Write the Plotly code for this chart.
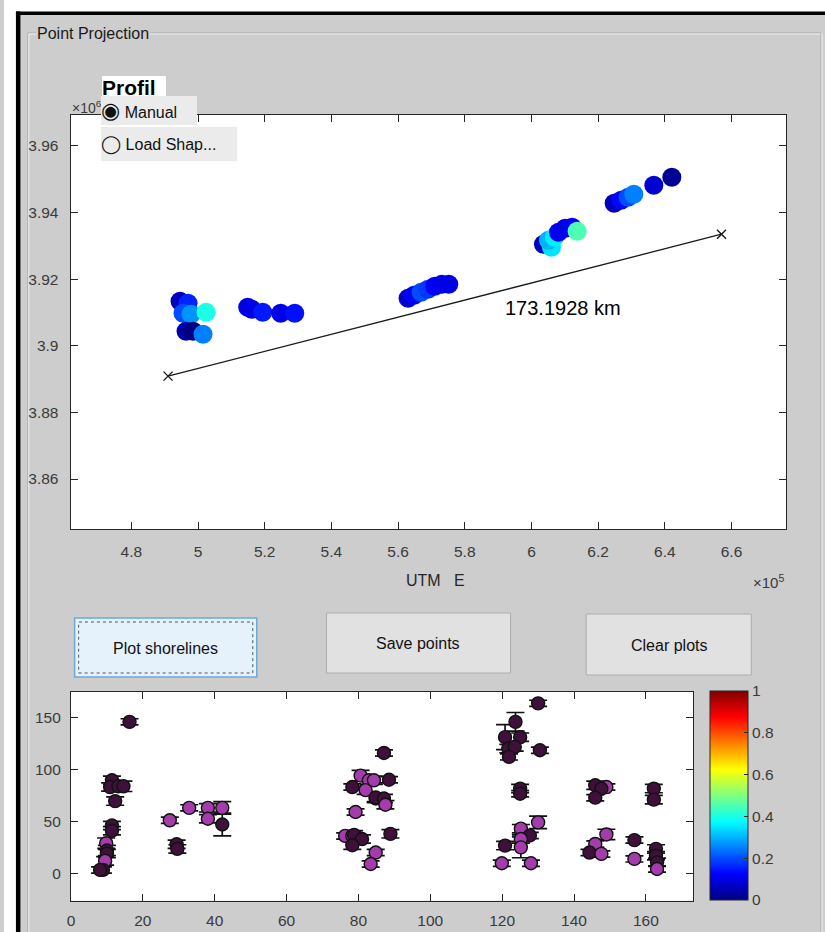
import plotly.graph_objects as go

W, H = 825, 932

# ---------------- data ----------------
# profile line (UTM metres)
line_e = [491000, 657000]
line_n = [3890900, 3933500]
profile_label = "173.1928 km"

# shoreline points in the map (UTM E, UTM N, colour value 0..1)
pts_e = [494600, 497000, 495500, 497900, 502400, 496400, 498500, 501500,
         514900, 516100, 519400, 524800, 529000,
         563000, 564800, 566900, 569000, 571000, 573100, 575200,
         603600, 606000, 605100, 606900, 608100, 610100, 612200, 613700,
         624800, 626900, 629000, 630700, 636700, 642100]
pts_n = [3913400, 3912800, 3909800, 3909500, 3910100, 3904400, 3904400, 3903500,
         3911600, 3911000, 3910100, 3909800, 3909800,
         3914300, 3915200, 3916100, 3917000, 3917900, 3918500, 3918500,
         3930500, 3929600, 3931700, 3932600, 3934100, 3935300, 3935600, 3934400,
         3942800, 3943700, 3944600, 3945500, 3948200, 3950600]
pts_c = [0.06, 0.16, 0.20, 0.27, 0.40, 0.04, 0.00, 0.25,
         0.10, 0.10, 0.15, 0.10, 0.14,
         0.08, 0.12, 0.20, 0.18, 0.12, 0.10, 0.10,
         0.06, 0.35, 0.30, 0.36, 0.12, 0.10, 0.12, 0.45,
         0.06, 0.13, 0.20, 0.25, 0.08, 0.02]

top_xtick_vals = [480000, 500000, 520000, 540000, 560000, 580000, 600000, 620000, 640000, 660000]
top_xtick_text = ["4.8", "5", "5.2", "5.4", "5.6", "5.8", "6", "6.2", "6.4", "6.6"]
top_ytick_vals = [3860000, 3880000, 3900000, 3920000, 3940000, 3960000]
top_ytick_text = ["3.86", "3.88", "3.9", "3.92", "3.94", "3.96"]

# bottom plot: distance along profile, shoreline value, error, group
sh_x = [16.3, 11.4, 10.9, 13.2, 14.6, 12.3, 11.4, 11.4, 9.8, 10.0, 10.0, 9.5, 8.9, 8.1,
        27.5, 29.4, 29.6, 32.9, 38.1, 38.1, 42.1, 42.1,
        76.3, 78.3, 78.8, 81.0, 78.3, 80.6, 78.3, 82.9, 82.0, 84.8, 79.2, 84.8, 83.4,
        87.1, 88.5, 84.3, 84.8, 87.1, 87.5, 88.9,
        130.0, 123.7, 120.8, 125.0, 121.7, 123.5, 121.9, 130.5, 125.0, 125.0, 130.0,
        125.2, 127.7, 125.2, 120.8, 125.2, 119.9, 128.0,
        145.9, 149.0, 147.6, 145.9, 149.0, 145.9, 144.3, 147.6, 156.8, 156.8,
        162.2, 162.2, 162.8, 162.8, 163.1, 163.1]
sh_y = [145.7, 89.5, 83.0, 83.7, 83.7, 69.5, 46.0, 41.0, 29.0, 22.0, 19.0, 12.0, 3.3, 3.3,
        51.0, 28.0, 23.5, 63.0, 63.0, 52.5, 63.0, 47.0,
        36.0, 36.0, 37.0, 33.0, 27.0, 94.0, 83.0, 89.5, 80.0, 72.0, 59.0, 20.0, 9.0,
        115.8, 90.0, 89.5, 73.0, 72.0, 66.0, 38.0,
        163.5, 145.7, 131.0, 131.0, 120.0, 121.6, 112.0, 118.4, 81.5, 76.6, 49.0,
        43.0, 36.4, 33.0, 26.7, 25.0, 9.7, 9.7,
        84.7, 83.0, 81.5, 72.8, 37.4, 28.3, 20.0, 18.7, 32.0, 13.9,
        81.5, 70.9, 23.5, 17.0, 10.6, 4.2]
sh_err = [3, 4, 4, 4, 5, 4, 4, 4, 5, 5, 4, 4, 3, 3,
          3, 4, 4, 3, 4, 4, 6, 11,
          3, 4, 4, 4, 4, 5, 3, 4, 4, 4, 3, 3, 3,
          3, 3, 4, 4, 4, 4, 4,
          3, 9, 12, 4, 4, 4, 3, 3, 4, 3, 6,
          4, 3, 4, 4, 10, 3, 3,
          4, 3, 4, 3, 5, 3, 3, 3, 3, 3,
          4, 4, 4, 4, 4, 3]
sh_grp = ["d", "d", "d", "d", "d", "d", "d", "d", "p", "d", "d", "p", "d", "d",
          "p", "d", "d", "p", "p", "p", "p", "d",
          "p", "p", "d", "d", "d", "p", "d", "p", "p", "d", "p", "p", "p",
          "d", "d", "p", "d", "d", "p", "d",
          "d", "d", "d", "d", "d", "d", "d", "d", "d", "d", "p",
          "p", "d", "p", "d", "p", "p", "p",
          "d", "p", "d", "d", "p", "p", "d", "p", "d", "p",
          "d", "d", "d", "d", "d", "p"]
bot_xtick_vals = [0, 20, 40, 60, 80, 100, 120, 140, 160]
bot_ytick_vals = [0, 50, 100, 150]
cbar_vals = [0, 0.2, 0.4, 0.6, 0.8, 1]
cbar_text = ["0", "0.2", "0.4", "0.6", "0.8", "1"]

# ---------------- styles ----------------
FONT = "Liberation Sans, Arial, Helvetica, sans-serif"
PANEL = "#CDCDCD"
AXC = "#262626"
TICKC = "#3A3A3A"
GRP_COL = {"p": "#A43CAC", "d": "#3E103A"}
JET = [[0, "rgb(0,0,128)"], [0.125, "rgb(0,0,255)"], [0.375, "rgb(0,255,255)"],
       [0.625, "rgb(255,255,0)"], [0.875, "rgb(255,0,0)"], [1, "rgb(128,0,0)"]]


def px(x):
    return x / W


def py(y):
    return 1 - y / H


fig = go.Figure()

# profile line
fig.add_trace(go.Scatter(
    x=line_e, y=line_n, mode="lines+markers", xaxis="x", yaxis="y",
    line=dict(color="#1a1a1a", width=1.3),
    marker=dict(symbol="x-thin", size=9, color="#1a1a1a", line=dict(color="#1a1a1a", width=1.4)),
    hoverinfo="skip"))

# map points, colour-coded with jet colormap, with colorbar placed at bottom right
fig.add_trace(go.Scatter(
    x=pts_e, y=pts_n, mode="markers", xaxis="x", yaxis="y",
    marker=dict(size=19, color=pts_c, colorscale=JET, cmin=0, cmax=1,
                line=dict(width=0), showscale=True,
                colorbar=dict(x=px(709), xanchor="left", y=py(691), yanchor="top",
                              len=209 / H, lenmode="fraction", thickness=38,
                              thicknessmode="pixels", xpad=0, ypad=0,
                              outlinecolor=AXC, outlinewidth=1,
                              tickvals=cbar_vals, ticktext=cbar_text,
                              ticks="inside", ticklen=4, tickcolor=AXC,
                              tickfont=dict(family=FONT, size=15.5, color=TICKC))),
    hoverinfo="skip"))

# bottom scatter with error bars
fig.add_trace(go.Scatter(
    x=sh_x, y=sh_y, mode="markers", xaxis="x2", yaxis="y2",
    error_y=dict(type="data", array=sh_err, color="#111111", thickness=1.7, width=9),
    marker=dict(size=13, color=[GRP_COL[g] for g in sh_grp],
                line=dict(color="#111111", width=1.4)),
    hoverinfo="skip"))

axis_common = dict(ticks="inside", ticklen=7, tickcolor=AXC, tickwidth=1,
                   showline=True, linecolor=AXC, linewidth=1.2, mirror="ticks",
                   showgrid=False, zeroline=False,
                   tickfont=dict(family=FONT, size=15.5, color=TICKC))

shapes = []


def rect(x0, y0, x1, y1, fill, lc="rgba(0,0,0,0)", lw=0, dash=None):
    d = dict(type="rect", xref="paper", yref="paper", layer="below",
             x0=px(x0), x1=px(x1), y0=py(y1), y1=py(y0), fillcolor=fill,
             line=dict(color=lc, width=lw))
    if dash:
        d["line"]["dash"] = dash
        d["fillcolor"] = "rgba(0,0,0,0)"
    return d


def line(x0, y0, x1, y1, c, w=1):
    return dict(type="line", xref="paper", yref="paper", layer="below",
                x0=px(x0), x1=px(x1), y0=py(y0), y1=py(y1), line=dict(color=c, width=w))


shapes += [
    rect(0, 0, W, 12, "white"),
    rect(0, 0, 12, H, "white"),
    rect(12, 11.5, W, 15, "black"),
    rect(12, 11.5, 16.5, H, "black"),
    line(24, 33, 821, 33, "#A9A9A9"),
    line(24, 34, 821, 34, "#F2F2F2"),
    line(24, 33, 24, H, "#A9A9A9"),
    line(25, 34, 25, H, "#F2F2F2"),
    line(821, 33, 821, H, "#A9A9A9"),
    line(822, 33, 822, H, "#F2F2F2"),
    # buttons
    rect(71, 618, 254, 677, "#E5F1FB", "#6FA7D8", 1.5),
    rect(75, 622, 250, 673, None, "#555555", 1, dash="dot"),
    rect(324, 613, 509, 673, "#E1E1E1", "#ADADAD", 1),
    rect(585, 614, 751, 675, "#E1E1E1", "#ADADAD", 1),
]

annotations = []


def ann(text, x, y, xanchor="center", yanchor="middle", size=15, color="#111111",
        bg=None, ref="paper", **kw):
    d = dict(text=text, showarrow=False, xanchor=xanchor, yanchor=yanchor,
             font=dict(family=FONT, size=size, color=color), borderwidth=0, borderpad=0)
    if ref == "paper":
        d.update(xref="paper", yref="paper", x=px(x), y=py(y))
    else:
        d.update(xref="x", yref="y", x=x, y=y)
    if bg:
        d["bgcolor"] = bg
    d.update(kw)
    return d


GLYPH = '<span style="font-family:DejaVu Sans;font-size:{}px">{}</span>'

annotations += [
    ann("Point Projection", 32, 34, xanchor="left", size=16, color="#1a1a1a", bg=PANEL, borderpad=1),
    ann("×10<sup>6</sup>", 68, 107, xanchor="left", size=14, color=TICKC),
    ann("<b>Profil</b>", 98, 76, xanchor="left", yanchor="top", size=21, color="black",
        bg="white", width=64, height=26, align="left", valign="top"),
    ann(GLYPH.format(22, "◉") + " Manual", 97, 96, xanchor="left", yanchor="top", size=16,
        color="#111111", bg="#EBEBEB", width=96, height=29, align="left", valign="middle"),
    ann(GLYPH.format(18, "◯") + " Load Shap...", 97, 127, xanchor="left", yanchor="top", size=16,
        color="#111111", bg="#EBEBEB", width=136, height=34, align="left", valign="middle"),
    ann(profile_label, 609500, 3911300, ref="data", size=20, color="black"),
    ann("UTM\u00a0\u00a0\u00a0E", 434, 580, size=16, color=AXC),
    ann("×10<sup>5</sup>", 784, 581, xanchor="right", size=15, color=TICKC),
    ann("Plot shorelines", 162.5, 648, size=16),
    ann("Save points", 416.5, 643, size=16),
    ann("Clear plots", 668, 645, size=16),
]

fig.update_layout(
    width=W, height=H, margin=dict(l=0, r=0, t=0, b=0, pad=0),
    paper_bgcolor=PANEL, plot_bgcolor="white", showlegend=False,
    font=dict(family=FONT),
    xaxis=dict(domain=[px(67), px(786)], range=[461800, 676400], anchor="y",
               tickvals=top_xtick_vals, ticktext=top_xtick_text,
               ticklabelstandoff=8, **axis_common),
    yaxis=dict(domain=[py(529), py(115)], range=[3845000, 3969300], anchor="x",
               tickvals=top_ytick_vals, ticktext=top_ytick_text,
               ticklabelstandoff=8, **axis_common),
    xaxis2=dict(domain=[px(67.3), px(692.7)], range=[0, 173.2], anchor="y2",
                tickvals=bot_xtick_vals, ticklabelstandoff=6, **axis_common),
    yaxis2=dict(domain=[py(900.7), py(691.7)], range=[-26.3, 174.7], anchor="x2",
                tickvals=bot_ytick_vals, ticklabelstandoff=6, **axis_common),
    shapes=shapes,
    annotations=annotations,
)

fig.write_html("out.html", config={"displayModeBar": False})
